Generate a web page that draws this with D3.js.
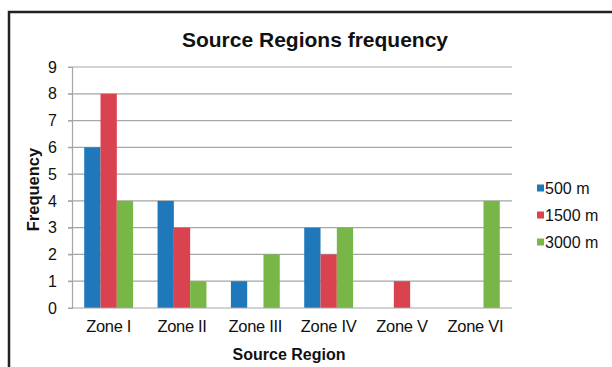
<!DOCTYPE html>
<html>
<head>
<meta charset="utf-8">
<script src="https://cdn.jsdelivr.net/npm/d3@7"></script>
<style>
  html, body { margin: 0; padding: 0; background: #fff; }
  svg { display: block; font-family: "Liberation Sans", Arial, sans-serif; }
</style>
</head>
<body>
<svg id="chart" width="612" height="367"></svg>
<script>
// Frequency of source regions per depth
const categories = ["Zone I", "Zone II", "Zone III", "Zone IV", "Zone V", "Zone VI"];
const seriesNames = ["500 m", "1500 m", "3000 m"];
const values500 = [6, 4, 1, 3, 0, 0];
const values1500 = [8, 3, 0, 2, 1, 0];
const values3000 = [4, 1, 2, 3, 0, 4];
const yTicks = [0, 1, 2, 3, 4, 5, 6, 7, 8, 9];
const colors = ["#1f78b9", "#d8434f", "#79b648"];

const seriesValues = [values500, values1500, values3000];

const svg = d3.select("#chart");
const W = 612, H = 367;
const margin = { left: 72, right: 100, top: 67, bottom: 59 };
const plotW = W - margin.left - margin.right;
const plotH = H - margin.top - margin.bottom;
const FONT = "Liberation Sans, Arial, sans-serif";

// outer frame
svg.append("rect")
  .attr("x", 9).attr("y", 12)
  .attr("width", W).attr("height", H)
  .attr("fill", "none").attr("stroke", "#222").attr("stroke-width", 2.5);

const g = svg.append("g").attr("transform", `translate(${margin.left},${margin.top})`);

const x0 = d3.scaleBand().domain(categories).range([0, plotW]).paddingInner(1/3).paddingOuter(1/6);
const x1 = d3.scaleBand().domain(seriesNames).range([0, x0.bandwidth()]);
const y = d3.scaleLinear().domain([0, 9]).range([plotH, 0]);

// gridlines
g.append("g").selectAll("line").data(yTicks.filter(t => t > 0)).join("line")
  .attr("x1", -4).attr("x2", plotW)
  .attr("y1", d => y(d)).attr("y2", d => y(d))
  .attr("stroke", "#a6a6a6").attr("stroke-width", 1.2);

// bars
const groups = g.append("g").selectAll("g").data(categories).join("g")
  .attr("transform", d => `translate(${x0(d)},0)`);
groups.selectAll("rect")
  .data((c, i) => seriesNames.map((s, k) => ({ s, k, v: seriesValues[k][i] })).filter(d => d.v > 0))
  .join("rect")
  .attr("x", d => x1(d.s))
  .attr("width", x1.bandwidth())
  .attr("y", d => y(d.v))
  .attr("height", d => plotH - y(d.v))
  .attr("fill", d => colors[d.k]);

// y axis
const yAxis = g.append("g").call(d3.axisLeft(y).tickValues(yTicks).tickSize(4).tickPadding(11).tickFormat(d3.format("d")));
yAxis.select(".domain").attr("stroke", "#a6a6a6").attr("stroke-width", 1.2);
yAxis.selectAll(".tick line").attr("stroke", "#a6a6a6");
yAxis.selectAll("text").attr("font-size", 16).attr("fill", "#111").attr("font-family", FONT);

// x axis
const xAxis = g.append("g").attr("transform", `translate(0,${plotH})`)
  .call(d3.axisBottom(x0).tickSize(0).tickPadding(12));
xAxis.select(".domain").attr("stroke", "#a6a6a6").attr("stroke-width", 1.2)
  .attr("d", `M-4,0H${plotW}`);
xAxis.selectAll("text").attr("font-size", 16.5).attr("fill", "#111").attr("font-family", FONT)
  .attr("letter-spacing", -0.3);

// titles
svg.append("text").attr("x", 315).attr("y", 47).attr("text-anchor", "middle")
  .attr("font-size", 21).attr("font-weight", "bold").attr("fill", "#111")
  .text("Source Regions frequency");
svg.append("text").attr("x", 289).attr("y", 360).attr("text-anchor", "middle")
  .attr("font-size", 16).attr("font-weight", "bold").attr("fill", "#111")
  .text("Source Region");
svg.append("text").attr("transform", `translate(39,${margin.top + plotH / 2 + 2}) rotate(-90)`)
  .attr("text-anchor", "middle")
  .attr("font-size", 16.5).attr("font-weight", "bold").attr("fill", "#111")
  .text("Frequency");

// legend
const legend = svg.append("g").attr("transform", "translate(537,188)");
const items = legend.selectAll("g").data(seriesNames).join("g")
  .attr("transform", (d, i) => `translate(0,${i * 27})`);
items.append("rect").attr("x", 0).attr("y", -3.5).attr("width", 7).attr("height", 7)
  .attr("fill", (d, i) => colors[i]);
items.append("text").attr("x", 8).attr("y", 0).attr("dy", "0.35em")
  .attr("font-size", 16).attr("fill", "#111").text(d => d);
</script>
</body>
</html>
